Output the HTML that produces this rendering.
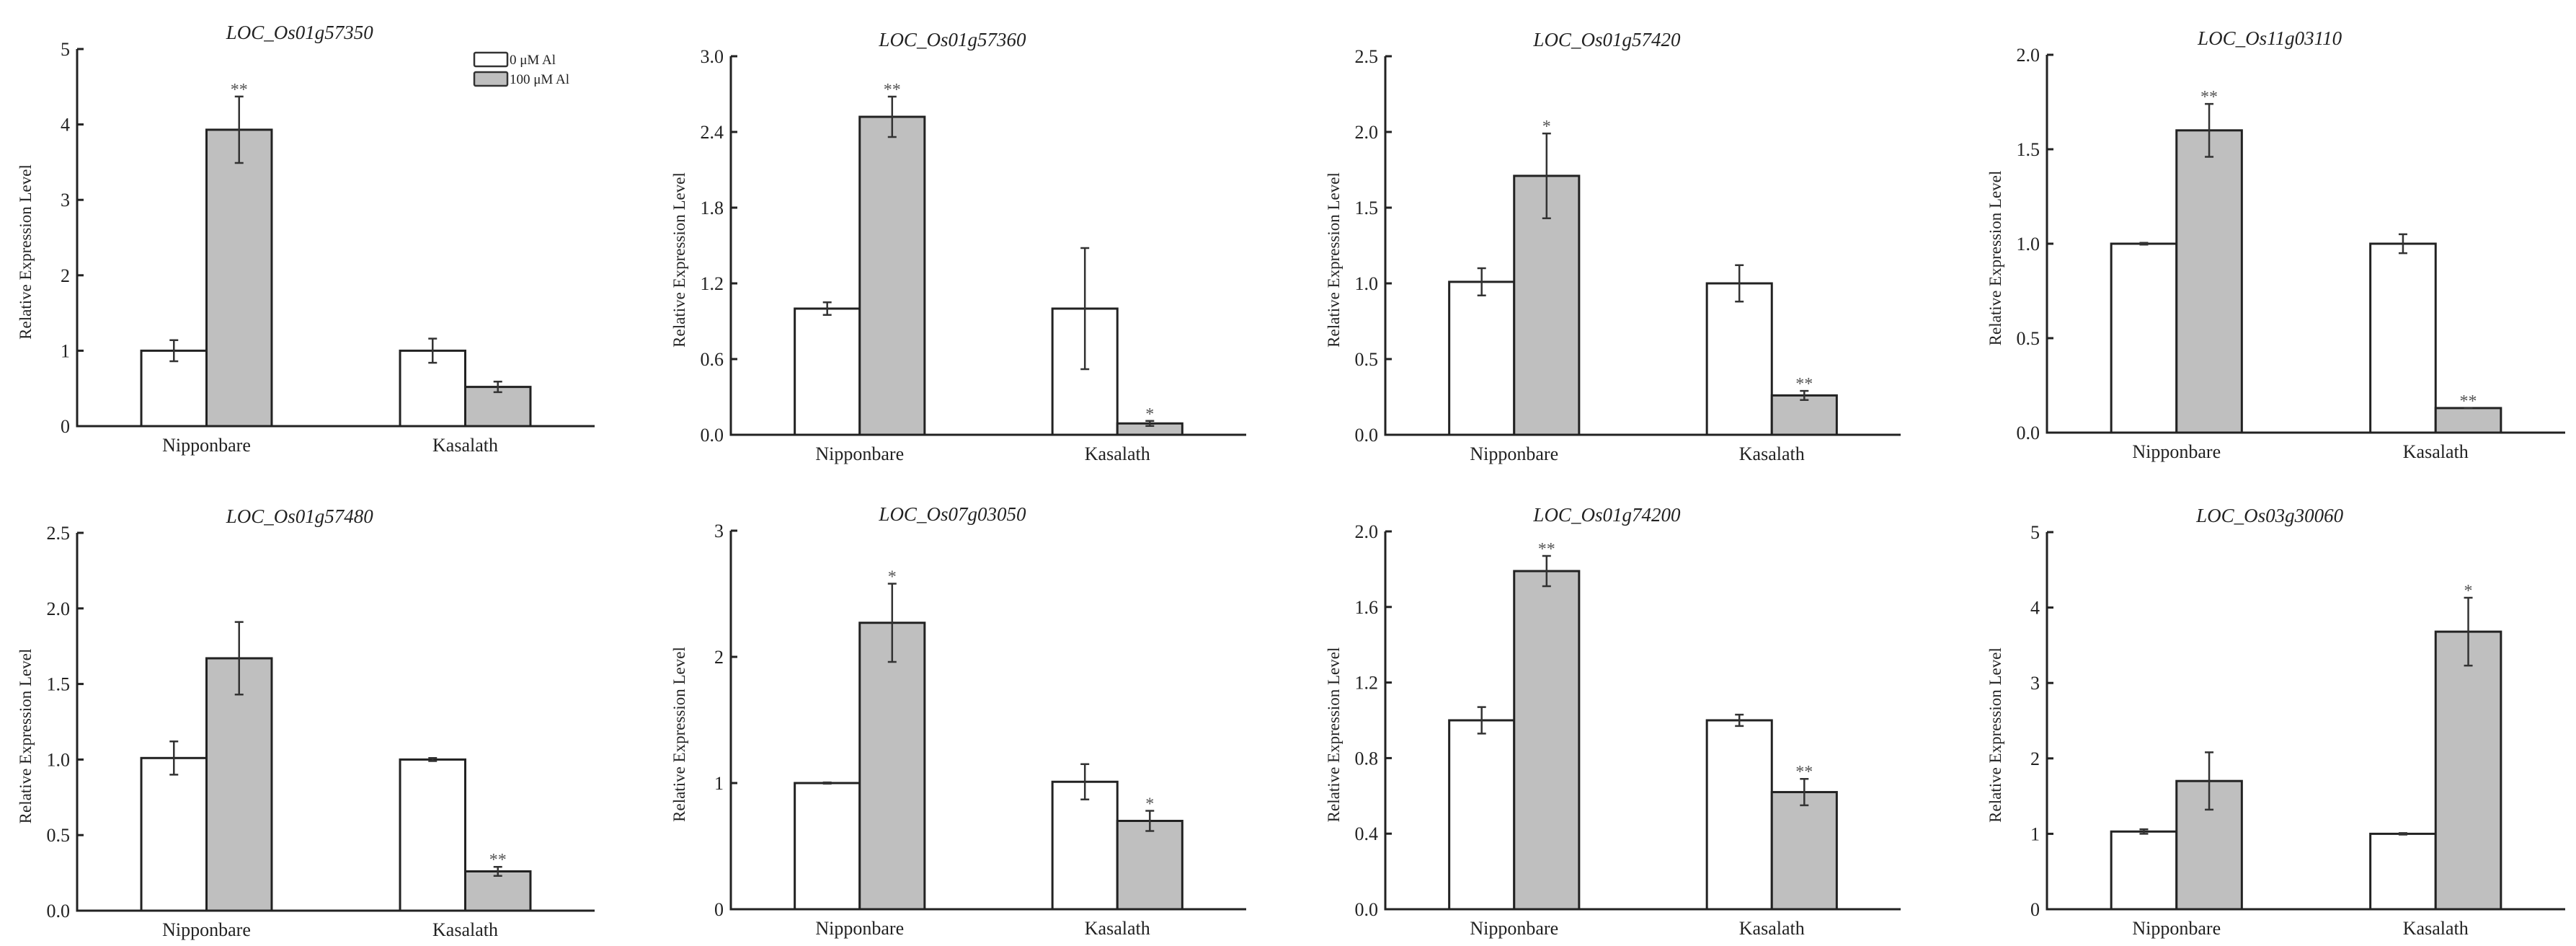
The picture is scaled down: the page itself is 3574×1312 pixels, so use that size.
<!DOCTYPE html>
<html><head><meta charset="utf-8"><style>
html,body{margin:0;padding:0;background:#fff;}
svg{display:block;font-family:"Liberation Serif",serif;}
</style></head><body>
<svg id="chart" width="3574" height="1312" viewBox="0 0 3574 1312" xmlns="http://www.w3.org/2000/svg">
<rect x="0" y="0" width="3574" height="1312" fill="#fff"/>
</svg>
<script>
const genes = ["LOC_Os01g57350","LOC_Os01g57360","LOC_Os01g57420","LOC_Os11g03110","LOC_Os01g57480","LOC_Os07g03050","LOC_Os01g74200","LOC_Os03g30060"];
const categories = ["Nipponbare","Kasalath"];
const ctrlVals = [[1.0,1.0],[1.0,1.0],[1.01,1.0],[1.0,1.0],[1.01,1.0],[1.0,1.01],[1.0,1.0],[1.03,1.0]];
const ctrlErr = [[0.14,0.16],[0.05,0.48],[0.09,0.12],[0.005,0.05],[0.11,0.01],[0.005,0.14],[0.07,0.03],[0.03,0.01]];
const alVals = [[3.93,0.52],[2.52,0.09],[1.71,0.26],[1.6,0.13],[1.67,0.26],[2.27,0.7],[1.79,0.62],[1.7,3.68]];
const alErr = [[0.44,0.07],[0.16,0.02],[0.28,0.03],[0.14,0.0],[0.24,0.03],[0.31,0.08],[0.08,0.07],[0.38,0.45]];
const alStars = [["**",""],["**","*"],["*","**"],["**","**"],["","**"],["*","*"],["**","**"],["","*"]];
const yMax = [5,3.0,2.5,2.0,2.5,3,2.0,5];
const tickLabels = [["0","1","2","3","4","5"],["0.0","0.6","1.2","1.8","2.4","3.0"],["0.0","0.5","1.0","1.5","2.0","2.5"],["0.0","0.5","1.0","1.5","2.0"],["0.0","0.5","1.0","1.5","2.0","2.5"],["0","1","2","3"],["0.0","0.4","0.8","1.2","1.6","2.0"],["0","1","2","3","4","5"]];
const legendLabels = ["0 μM  Al","100 μM  Al"];

const NS="http://www.w3.org/2000/svg";
const svg=document.getElementById('chart');
function mk(tag,attrs,parent){const e=document.createElementNS(NS,tag);for(const k in attrs)e.setAttribute(k,attrs[k]);(parent||svg).appendChild(e);return e;}
// panel frames (layout only)
const axL=[107,1014,1922,2840], axR=[825,1729,2637,3559];
const rowTop=[[68,78,78,76],[739,736,737,738]], rowBot=[[591,603,603,600],[1263,1261,1261,1261]];
for(let p=0;p<8;p++){
  const r=Math.floor(p/4), c=p%4;
  const x0=axL[c], x1=axR[c], y0=rowBot[r][c], yT=rowTop[r][c], W=x1-x0;
  const g=mk('g',{});
  
  
  const ys=v=>y0-(v/yMax[p])*(y0-yT);
  const bw=0.126*W;
  const t=mk('text',{x:x0+0.43*W,y:yT-14,'font-size':27,'font-style':'italic','text-anchor':'middle',fill:'#222'},g);
  t.textContent=genes[p];
  
  
  const yt=mk('text',{x:0,y:0,'font-size':23,'text-anchor':'middle',fill:'#222',transform:`translate(${x0-64},${(y0+yT)/2+20}) rotate(-90)`},g);
  yt.textContent="Relative Expression Level";
  
  
  // bars
  for(let k=0;k<2;k++){
    const cx=x0+(0.25+0.5*k)*W;
    const bars=[[ctrlVals[p][k],ctrlErr[p][k],'#ffffff',''],[alVals[p][k],alErr[p][k],'#bfbfbf',alStars[p][k]]];
    bars.forEach((b,i)=>{
      const bx=i===0?cx-bw:cx;
      const rc=mk('rect',{x:bx,y:ys(b[0]),width:bw,height:y0-ys(b[0]),fill:b[2],stroke:'#222','stroke-width':3},g);
      
      
      const ex=bx+bw/2, et=ys(b[0]+b[1]), eb=ys(b[0]-b[1]);
      const eg=mk('path',{d:`M${ex},${et}V${eb}M${ex-6},${et}H${ex+6}M${ex-6},${eb}H${ex+6}`,stroke:'#333','stroke-width':2.5,fill:'none'},g);
      
      
      if(b[3]){
        const st=mk('text',{x:ex,y:et-2,'font-size':24,'text-anchor':'middle',fill:'#555'},g);
        st.textContent=b[3];
        
        
      }
    });
    const cl=mk('text',{x:cx,y:y0+35,'font-size':26,'text-anchor':'middle',fill:'#222'},g);
    cl.textContent=categories[k];
    
    
  }
  // axes
  const ax=mk('path',{d:`M${x0},${yT}V${y0}H${x1}`,stroke:'#222','stroke-width':3,fill:'none'},g);
  
  
  const labs=tickLabels[p], n=labs.length-1;
  labs.forEach((lb,i)=>{
    const v=yMax[p]*i/n, y=ys(v);
    if(i>0){const tk=mk('line',{x1:x0,x2:x0+9,y1:y,y2:y,stroke:'#222','stroke-width':3},g);
      
      }
    const tl=mk('text',{x:x0-10,y:y+9,'font-size':26,'text-anchor':'end',fill:'#222'},g);
    tl.textContent=lb;
    
    
  });
}
// legend
const lg=mk('g',{});


legendLabels.forEach((l,i)=>{
  const y=73+i*27;
  const b=mk('rect',{x:658,y:y,width:46,height:19,rx:2,fill:i?'#bfbfbf':'#fff',stroke:'#333','stroke-width':2.5},lg);
  
  
  const t=mk('text',{x:707,y:y+16,'font-size':19,fill:'#222','xml:space':'preserve'},lg);
  t.textContent=l;
  
  
});
</script>
</body></html>
